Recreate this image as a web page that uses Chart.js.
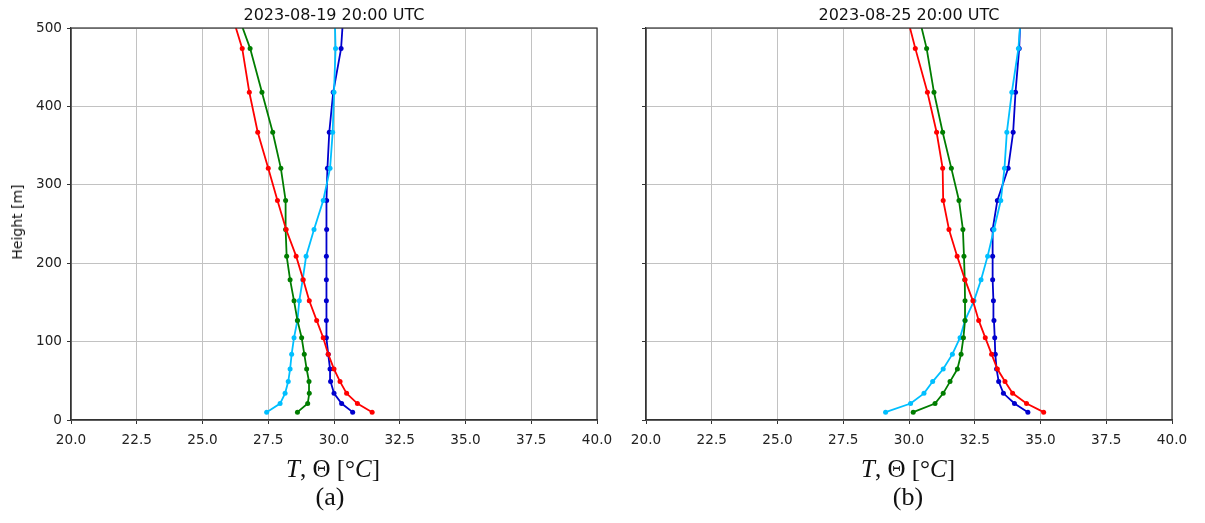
<!DOCTYPE html>
<html>
<head>
<meta charset="utf-8">
<script src="https://cdn.jsdelivr.net/npm/chart.js@4/dist/chart.umd.min.js"></script>
<style>
  html, body { margin: 0; padding: 0; background: #fff; }
  body { width: 1205px; height: 523px; position: relative; overflow: hidden; font-family: "DejaVu Sans", sans-serif; color: #111; }
  canvas.panel { position: absolute; top: 0; }
  .ptitle { position: absolute; top: 7px; font-size: 16px; line-height: 1; white-space: nowrap; transform: translateX(-50%); }
  .ylabel { position: absolute; font-size: 14px; line-height: 1; white-space: nowrap; transform: translate(-50%, -50%) rotate(-90deg); }
  .xlabel { position: absolute; top: 456px; font-family: "Liberation Serif", "DejaVu Serif", serif; font-size: 25px; line-height: 1; white-space: nowrap; transform: translateX(-50%); }
  .caption { position: absolute; top: 484px; font-family: "Liberation Serif", "DejaVu Serif", serif; font-size: 26px; line-height: 1; white-space: nowrap; transform: translateX(-50%); }
</style>
</head>
<body>
<canvas id="panelA" class="panel" width="625" height="460" style="left:0px"></canvas>
<canvas id="panelB" class="panel" width="625" height="460" style="left:575px"></canvas>

<div class="ptitle" style="left:334px">2023-08-19 20:00 UTC</div>
<div class="ptitle" style="left:909px">2023-08-25 20:00 UTC</div>
<div class="ylabel" style="left:17px; top:222px">Height [m]</div>
<div class="xlabel" style="left:333px"><i>T</i>, Θ [°<i>C</i>]</div>
<div class="xlabel" style="left:908px"><i>T</i>, Θ [°<i>C</i>]</div>
<div class="caption" style="left:330px">(a)</div>
<div class="caption" style="left:908px">(b)</div>

<script>
// Model levels (m) shared by every profile
const heights = [10, 21, 34, 49, 65, 84, 105, 127, 152, 179, 209, 243, 280, 321, 367, 418, 474, 536];

// Axis ticks
const xTicks = [20.0, 22.5, 25.0, 27.5, 30.0, 32.5, 35.0, 37.5, 40.0];
const yTicks = [0, 100, 200, 300, 400, 500];

// 2023-08-19 20:00 UTC profiles (°C)
const redA   = [31.45, 30.89, 30.48, 30.23, 30.00, 29.78, 29.59, 29.34, 29.06, 28.83, 28.56, 28.18, 27.85, 27.50, 27.10, 26.78, 26.51, 25.94];
const greenA = [28.61, 29.00, 29.06, 29.05, 28.96, 28.87, 28.77, 28.61, 28.48, 28.33, 28.20, 28.16, 28.16, 27.98, 27.67, 27.26, 26.81, 26.14];
const cyanA  = [27.44, 27.95, 28.14, 28.26, 28.33, 28.39, 28.48, 28.61, 28.68, 28.81, 28.94, 29.24, 29.59, 29.85, 29.95, 30.00, 30.06, 30.01];
const blueA  = [30.71, 30.29, 30.00, 29.87, 29.85, 29.78, 29.71, 29.71, 29.71, 29.71, 29.71, 29.72, 29.72, 29.75, 29.82, 29.97, 30.27, 30.39];

// 2023-08-25 20:00 UTC profiles (°C)
const redB   = [35.12, 34.47, 33.94, 33.65, 33.36, 33.14, 32.90, 32.65, 32.43, 32.13, 31.83, 31.52, 31.30, 31.28, 31.05, 30.70, 30.24, 29.76];
const greenB = [30.16, 30.99, 31.30, 31.56, 31.84, 31.98, 32.07, 32.13, 32.13, 32.12, 32.09, 32.05, 31.90, 31.61, 31.28, 30.95, 30.67, 30.22];
const cyanB  = [29.11, 30.06, 30.57, 30.90, 31.30, 31.65, 31.94, 32.13, 32.47, 32.74, 32.99, 33.23, 33.49, 33.63, 33.72, 33.91, 34.16, 34.30];
const blueB  = [34.52, 34.01, 33.59, 33.41, 33.33, 33.28, 33.26, 33.23, 33.21, 33.18, 33.18, 33.18, 33.36, 33.77, 33.96, 34.05, 34.19, 34.26];

const COLORS = { red: '#ff0000', green: '#007d00', cyan: '#00bfff', blue: '#0000cd' };

// Closed box around the plotting area (top and right spines)
const frameBox = {
  id: 'frameBox',
  afterDatasetsDraw(chart) {
    const { ctx, chartArea: a } = chart;
    ctx.save();
    ctx.strokeStyle = '#333';
    ctx.lineWidth = 1.2;
    ctx.strokeRect(a.left, a.top, a.right - a.left, a.bottom - a.top);
    ctx.restore();
  }
};

function profile(label, values, color) {
  return {
    label,
    data: heights.map((h, i) => ({ x: values[i], y: h })),
    showLine: true,
    borderColor: color,
    backgroundColor: color,
    borderWidth: 1.8,
    pointRadius: 2.5,
    pointHoverRadius: 2.5,
    pointBorderWidth: 0,
    clip: 0
  };
}

function makePanel(canvasId, series, showYLabels) {
  const tickFont = { family: '"DejaVu Sans", sans-serif', size: 13.6 };
  return new Chart(document.getElementById(canvasId), {
    type: 'scatter',
    data: { datasets: series.map(s => profile(s[0], s[1], s[2])) },
    options: {
      responsive: false,
      animation: false,
      devicePixelRatio: 1,
      layout: { padding: { left: 0, right: 28, top: 28, bottom: 0 } },
      plugins: { legend: { display: false }, tooltip: { enabled: false } },
      scales: {
        x: {
          type: 'linear',
          min: xTicks[0],
          max: xTicks[xTicks.length - 1],
          afterBuildTicks: s => { s.ticks = xTicks.map(v => ({ value: v })); },
          ticks: { callback: v => Number(v).toFixed(1), font: tickFont, color: '#222', padding: 8, maxRotation: 0, autoSkip: false },
          grid: { color: '#c2c2c2', lineWidth: 1, tickColor: '#333', tickLength: 4 },
          border: { color: '#333', width: 1.2 },
          afterFit: s => { s.height = 40; s.paddingLeft = 0; s.paddingRight = 0; }
        },
        y: {
          type: 'linear',
          min: yTicks[0],
          max: yTicks[yTicks.length - 1],
          afterBuildTicks: s => { s.ticks = yTicks.map(v => ({ value: v })); },
          ticks: { display: showYLabels, font: tickFont, color: '#222', padding: 5 },
          grid: { color: '#c2c2c2', lineWidth: 1, tickColor: '#333', tickLength: 4 },
          border: { color: '#333', width: 1.2 },
          afterFit: s => { s.width = 71; s.paddingTop = 0; s.paddingBottom = 0; }
        }
      }
    },
    plugins: [frameBox]
  });
}

makePanel('panelA', [
  ['T', redA, COLORS.red],
  ['Θ', greenA, COLORS.green],
  ['T ref', cyanA, COLORS.cyan],
  ['Θ ref', blueA, COLORS.blue]
], true);

makePanel('panelB', [
  ['T', redB, COLORS.red],
  ['Θ', greenB, COLORS.green],
  ['T ref', cyanB, COLORS.cyan],
  ['Θ ref', blueB, COLORS.blue]
], false);
</script>
</body>
</html>
